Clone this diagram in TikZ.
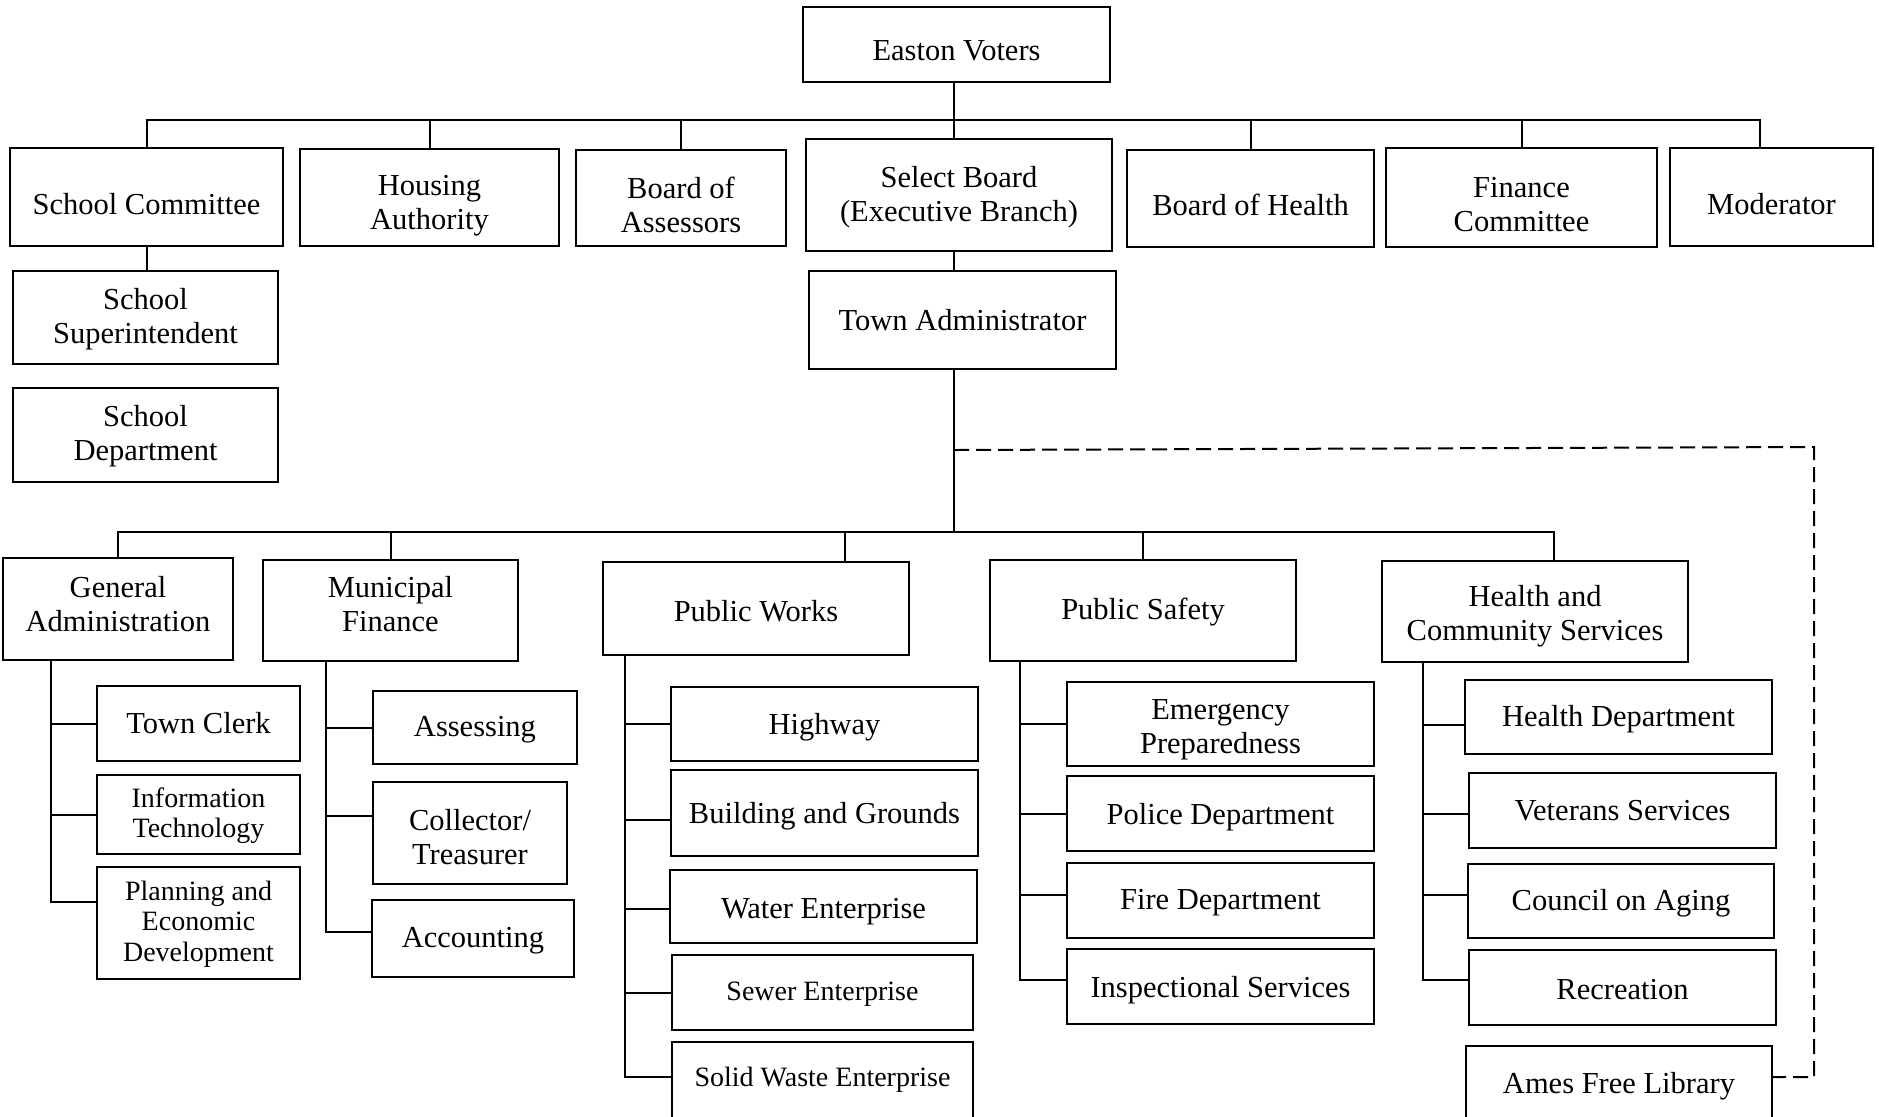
\documentclass[tikz,border=0pt]{standalone}
\usepackage{fontspec}
\setmainfont{Liberation Serif}
\tikzset{
  box/.style={draw, line width=1pt, inner sep=0pt},
  boxtext/.style={inner sep=0pt, align=center, font=\fontsize{15.25}{17}\selectfont},
  smalltext/.style={font=\fontsize{14}{15.25}\selectfont},
  conn/.style={line width=1pt},
  dashconn/.style={line width=1pt, dash pattern=on 7.5pt off 3.5pt}
}
% #1 text options, #2 name, #3-#6 corners (px), #7 text
\newcommand\orgbox[7][]{%
  \node[box,minimum width={(#5-#3)*0.5pt},minimum height={(#6-#4)*0.5pt}] (#2) at ({(#3+#5)/2},{(#4+#6)/2}) {};
  \node[boxtext,#1] (#2-t) at (#2.center) {#7};}
\begin{document}
\begin{tikzpicture}[x=0.5pt,y=-0.5pt]
\useasboundingbox (0,0) rectangle (1879,1116);
% top level
\orgbox[yshift=-3pt]{voters}{803}{7}{1110}{82}{Easton Voters}
\orgbox[yshift=-3.6pt]{sc}{10}{148}{283}{246}{School Committee}
\orgbox[yshift=-4.2pt]{ha}{300}{149}{559}{246}{Housing\\Authority}
\orgbox[yshift=-3.3pt]{boa}{576}{150}{786}{246}{Board of\\Assessors}
\orgbox[yshift=-1.2pt]{sb}{806}{139}{1112}{251}{Select Board\\(Executive Branch)}
\orgbox[yshift=-3pt]{boh}{1127}{150}{1374}{247}{Board of Health}
\orgbox[yshift=-3.6pt]{fc}{1386}{148}{1657}{247}{Finance\\Committee}
\orgbox[yshift=-3.6pt]{mod}{1670}{148}{1873}{246}{Moderator}
\orgbox[yshift=-0.6pt]{ss}{13}{271}{278}{364}{School\\Superintendent}
\orgbox[yshift=-0.5pt]{sd}{13}{388}{278}{482}{School\\Department}
\orgbox[yshift=0pt]{ta}{809}{271}{1116}{369}{Town Administrator}
% second level
\orgbox[yshift=2.7pt]{ga}{3}{558}{233}{660}{General\\Administration}
\orgbox[yshift=3pt]{mf}{263}{560}{518}{661}{Municipal\\Finance}
\orgbox[yshift=-1.2pt]{pw}{603}{562}{909}{655}{Public Works}
\orgbox[yshift=-0.6pt]{ps}{990}{560}{1296}{661}{Public Safety}
\orgbox[yshift=-2.4pt]{hcs}{1382}{561}{1688}{662}{Health and\\Community Services}
% third level
\orgbox[yshift=0pt]{tc}{97}{686}{300}{761}{Town Clerk}
\orgbox[smalltext,yshift=-0.5pt]{it}{97}{775}{300}{854}{Information\\Technology}
\orgbox[smalltext,yshift=-0.5pt]{pe}{97}{867}{300}{979}{Planning and\\Economic\\Development}
\orgbox[yshift=-1pt]{as}{373}{691}{577}{764}{Assessing}
\orgbox[yshift=-2pt]{ct}{373}{782}{567}{884}{Collector/\\Treasurer}
\orgbox[yshift=-1pt]{ac}{372}{900}{574}{977}{Accounting}
\orgbox[yshift=-1.8pt]{hw}{671}{687}{978}{761}{Highway}
\orgbox[yshift=-1.8pt]{bg}{671}{770}{978}{856}{Building and Grounds}
\orgbox[yshift=-2.4pt]{we}{670}{870}{977}{943}{Water Enterprise}
\orgbox[smalltext,yshift=-0.6pt]{se}{672}{955}{973}{1030}{Sewer Enterprise}
\orgbox[smalltext,yshift=0.6pt]{sw}{672}{1042}{973}{1120}{Solid Waste Enterprise}
\orgbox[yshift=-3pt]{ep}{1067}{682}{1374}{766}{Emergency\\Preparedness}
\orgbox[yshift=-1.8pt]{pd}{1067}{776}{1374}{851}{Police Department}
\orgbox[yshift=-1.2pt]{fd}{1067}{863}{1374}{938}{Fire Department}
\orgbox[yshift=-1.8pt]{is}{1067}{949}{1374}{1024}{Inspectional Services}
\orgbox[yshift=-1.2pt]{hd}{1465}{680}{1772}{754}{Health Department}
\orgbox[yshift=0pt]{vs}{1469}{773}{1776}{848}{Veterans Services}
\orgbox[yshift=-1.2pt]{coa}{1468}{864}{1774}{938}{Council on Aging}
\orgbox[yshift=-1.2pt]{rec}{1469}{950}{1776}{1025}{Recreation}
\orgbox[yshift=-1.8pt]{afl}{1466}{1046}{1772}{1120}{Ames Free Library}
% helper coordinates
\coordinate (bus1) at (0,120);
\coordinate (bus2) at (0,532);
\coordinate (trunk) at (954,0);
\coordinate (modstub) at ([xshift=-6pt]mod.north);
\coordinate (pwstub) at ([xshift=44.5pt]pw.north);
\coordinate (hcsstub) at ([xshift=9.5pt]hcs.north);
% top connectors
\draw[conn] (voters.south -| trunk) -- (sb.north -| trunk);
\draw[conn] (sc.north) -- (sc.north |- bus1) -- (modstub |- bus1) -- (modstub);
\draw[conn] (ha.north) -- (ha.north |- bus1);
\draw[conn] (boa.north) -- (boa.north |- bus1);
\draw[conn] (boh.north) -- (boh.north |- bus1);
\draw[conn] (fc.north) -- (fc.north |- bus1);
\draw[conn] (sc.south) -- (sc.south |- ss.north);
\draw[conn] (sb.south -| trunk) -- (ta.north -| trunk);
\draw[conn] (ta.south -| trunk) -- (bus2 -| trunk);
% second bus
\draw[conn] (ga.north) -- (ga.north |- bus2) -- (hcsstub |- bus2) -- (hcsstub);
\draw[conn] (mf.north) -- (mf.north |- bus2);
\draw[conn] (pwstub) -- (pwstub |- bus2);
\draw[conn] (ps.north) -- (ps.north |- bus2);
% dashed link to library
\coordinate (dA) at (954,450);
\coordinate (dB) at (1814,447);
\coordinate (afl-b) at ([yshift=3pt]afl.east);
\draw[dashconn] (dA) -- (dB) -- (dB |- afl-b) -- (afl-b);
% General Administration
\coordinate (gaT) at (51,0);
\coordinate (tc-b) at (tc.west);
\coordinate (it-b) at (it.west);
\coordinate (pe-b) at ([yshift=10.4pt]pe.west);
\draw[conn] (ga.south -| gaT) -- (gaT |- pe-b) -- (pe-b);
\draw[conn] (gaT |- tc-b) -- (tc-b);
\draw[conn] (gaT |- it-b) -- (it-b);
% Municipal Finance
\coordinate (mfT) at (326,0);
\coordinate (as-b) at (as.west);
\coordinate (ct-b) at ([yshift=8.4pt]ct.west);
\coordinate (ac-b) at ([yshift=3.1pt]ac.west);
\draw[conn] (mf.south -| mfT) -- (mfT |- ac-b) -- (ac-b);
\draw[conn] (mfT |- as-b) -- (as-b);
\draw[conn] (mfT |- ct-b) -- (ct-b);
% Public Works
\coordinate (pwT) at (625,0);
\coordinate (hw-b) at (hw.west);
\coordinate (bg-b) at ([yshift=-3.3pt]bg.west);
\coordinate (we-b) at ([yshift=-1pt]we.west);
\coordinate (se-b) at (se.west);
\coordinate (sw-b) at ([yshift=2pt]sw.west);
\draw[conn] (pw.south -| pwT) -- (pwT |- sw-b) -- (sw-b);
\draw[conn] (pwT |- hw-b) -- (hw-b);
\draw[conn] (pwT |- bg-b) -- (bg-b);
\draw[conn] (pwT |- we-b) -- (we-b);
\draw[conn] (pwT |- se-b) -- (se-b);
% Public Safety
\coordinate (psT) at (1020,0);
\coordinate (ep-b) at (ep.west);
\coordinate (pd-b) at (pd.west);
\coordinate (fd-b) at ([yshift=2.7pt]fd.west);
\coordinate (is-b) at ([yshift=3.5pt]is.west);
\draw[conn] (ps.south -| psT) -- (psT |- is-b) -- (is-b);
\draw[conn] (psT |- ep-b) -- (ep-b);
\draw[conn] (psT |- pd-b) -- (pd-b);
\draw[conn] (psT |- fd-b) -- (fd-b);
% Health and Community Services
\coordinate (hcsT) at (1423,0);
\coordinate (hd-b) at ([yshift=-4pt]hd.west);
\coordinate (vs-b) at ([yshift=-1.5pt]vs.west);
\coordinate (coa-b) at ([yshift=3pt]coa.west);
\coordinate (rec-b) at ([yshift=4pt]rec.west);
\draw[conn] (hcs.south -| hcsT) -- (hcsT |- rec-b) -- (rec-b);
\draw[conn] (hcsT |- hd-b) -- (hd-b);
\draw[conn] (hcsT |- vs-b) -- (vs-b);
\draw[conn] (hcsT |- coa-b) -- (coa-b);
\end{tikzpicture}
\end{document}
